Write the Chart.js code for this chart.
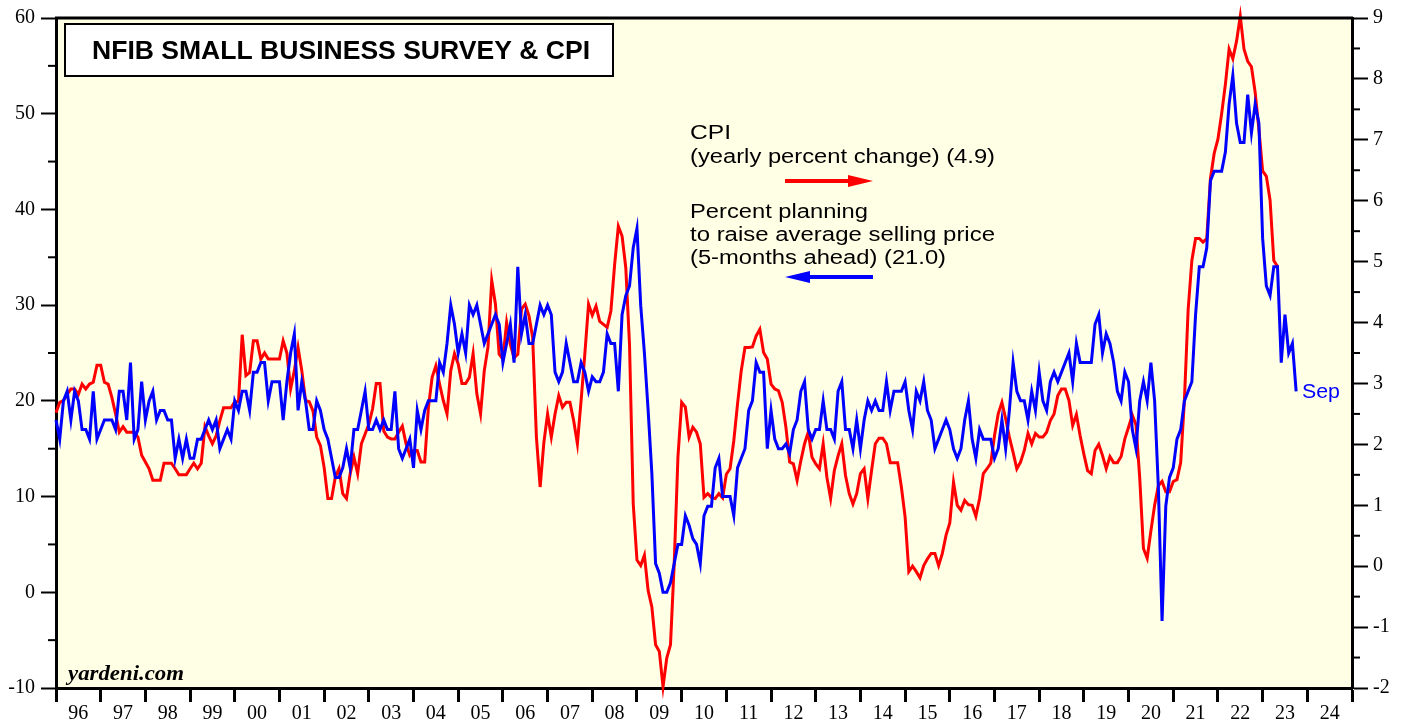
<!DOCTYPE html>
<html lang="en">

<head>
    <meta charset="UTF-8">
    <title>NFIB Small Business Survey & CPI</title>
    <script src="https://cdn.jsdelivr.net/npm/chart.js"></script>
    <style>
        body {
            margin: 0;
            background: #fff;
        }

        #wrap {
            width: 1406px;
            height: 719px;
        }
    </style>
</head>

<body>
    <div id="wrap">
        <canvas id="nfibChart" width="1406" height="719"></canvas>
    </div>

    <script>
        // Year labels for the time axis (x values are months counted from Jan 1996)
        var yearLabels = ['96', '97', '98', '99', '00', '01', '02', '03', '04', '05', '06', '07', '08', '09',
            '10', '11', '12', '13', '14', '15', '16', '17', '18', '19', '20', '21', '22', '23', '24'];

        // Percent planning to raise average selling price (5-months ahead), monthly, left axis
        var priceplans = [
            18, 16, 20, 21, 18, 21, 20, 17, 17, 16, 21, 16,
            17, 18, 18, 18, 17, 21, 21, 18, 24, 16, 17, 22,
            18, 20, 21, 18, 19, 19, 18, 18, 14, 16, 14, 16,
            14, 14, 16, 16, 17, 18, 17, 18, 15, 16, 17, 16,
            20, 19, 21, 21, 19, 23, 23, 24, 24, 20, 22, 22,
            22, 18, 22, 25, 27, 19, 22, 20, 17, 17, 20, 19,
            17, 16, 14, 12, 12, 13, 15, 13, 17, 17, 19, 21,
            17, 17, 18, 17, 18, 17, 17, 21, 15, 14, 15, 16,
            13, 19, 17, 19, 20, 20, 20, 24, 23, 26, 30, 28,
            25, 27, 25, 30, 29, 30, 28, 26, 27, 28, 29, 28,
            24, 26, 28, 24, 34, 27, 29, 26, 26, 28, 30, 29,
            30, 29, 23, 22, 23, 26, 24, 22, 22, 24, 23, 21,
            22.5, 22, 22, 23, 27, 26, 26, 21, 29, 31, 32, 36,
            38, 30, 25, 19, 12.4, 3, 2, 0, 0, 1, 3, 5,
            5, 8, 7, 5.6, 5, 3, 8, 9, 9, 13, 14, 10,
            10, 10, 8, 13, 14, 15, 19, 20, 24, 23, 23, 15,
            19, 16, 15, 15, 15.5, 14.5, 17, 18, 21, 22, 17, 16,
            17, 17, 20, 17, 17, 16, 21, 22, 17, 17, 15, 18,
            15, 18, 20, 19, 20, 19, 19, 22, 19, 21, 21, 21,
            22, 19, 17, 21, 20, 22, 19, 18, 15, 16, 17, 18,
            17, 15, 14, 15, 18, 20, 16, 14, 17, 16, 16, 16,
            14, 15, 18, 15, 19, 24, 21, 20, 20, 18, 21, 19,
            23, 20, 19, 22, 23, 22, 23, 24, 25, 22, 26, 24,
            24, 24, 24, 28, 29, 25, 27, 26, 24, 21, 20, 23,
            22, 17, 15, 20, 22, 20, 24, 20, 11, -3, 9, 12,
            13, 16, 17, 20, 21, 22, 29, 34, 34, 36, 43, 44,
            44, 44, 46, 51, 54, 49, 47, 47, 52, 48, 51, 49,
            37, 32, 31, 34, 34, 24, 29, 25, 26, 21
        ];

        // CPI, yearly percent change, monthly, right axis
        var cpiYoy = [
            2.52, 2.69, 2.72, 2.82, 2.91, 2.91, 2.82, 2.99, 2.91, 2.99, 3.02, 3.30,
            3.30, 3.02, 2.99, 2.77, 2.50, 2.20, 2.29, 2.20, 2.20, 2.20, 2.12, 1.82,
            1.71, 1.60, 1.41, 1.41, 1.41, 1.69, 1.69, 1.69, 1.60, 1.50, 1.50, 1.50,
            1.60, 1.69, 1.60, 1.69, 2.29, 2.14, 2.01, 2.14, 2.39, 2.60, 2.60, 2.60,
            2.70, 2.70, 3.80, 3.13, 3.18, 3.70, 3.70, 3.40, 3.50, 3.40, 3.40, 3.40,
            3.40, 3.70, 3.50, 2.91, 3.21, 3.59, 3.21, 2.72, 2.70, 2.55, 2.12, 1.98,
            1.62, 1.11, 1.11, 1.46, 1.60, 1.19, 1.11, 1.52, 1.79, 1.52, 2.01, 2.17,
            2.33, 2.58, 3.00, 3.00, 2.22, 2.12, 2.09, 2.09, 2.20, 2.30, 2.01, 1.82,
            1.90, 1.90, 1.71, 1.71, 2.61, 3.10, 3.29, 2.99, 2.72, 2.50, 3.21, 3.49,
            3.32, 3.00, 3.00, 3.10, 3.49, 2.83, 2.50, 3.21, 3.60, 4.69, 4.30, 3.48,
            3.40, 4.00, 3.64, 3.42, 3.48, 4.22, 4.30, 4.11, 3.75, 2.12, 1.30, 2.03,
            2.50, 2.12, 2.50, 2.80, 2.61, 2.69, 2.69, 2.39, 2.01, 2.72, 3.48, 4.30,
            4.12, 4.27, 4.02, 3.97, 3.92, 4.19, 4.95, 5.58, 5.42, 4.90, 3.64, 1.02,
            0.10, 0.01, 0.18, -0.40, -0.67, -1.29, -1.40, -1.98, -1.51, -1.29, 0.04, 1.79,
            2.69, 2.61, 2.12, 2.28, 2.20, 2.01, 1.13, 1.19, 1.13, 1.11, 1.19, 1.12,
            1.51, 1.60, 2.06, 2.66, 3.21, 3.59, 3.59, 3.60, 3.78, 3.89, 3.51, 3.40,
            2.99, 2.91, 2.88, 2.69, 2.28, 1.71, 1.68, 1.41, 1.73, 2.01, 2.20, 1.79,
            1.68, 1.60, 2.01, 1.46, 1.11, 1.57, 1.81, 2.01, 1.49, 1.19, 1.02, 1.19,
            1.52, 1.60, 1.11, 1.57, 2.01, 2.10, 2.10, 2.01, 1.70, 1.70, 1.70, 1.30,
            0.81, -0.09, 0.00, -0.09, -0.19, 0.01, 0.12, 0.21, 0.21, 0.01, 0.21, 0.51,
            0.71, 1.38, 1.00, 0.92, 1.08, 1.01, 1.00, 0.82, 1.11, 1.52, 1.60, 1.69,
            2.14, 2.50, 2.69, 2.42, 2.12, 1.87, 1.60, 1.71, 1.90, 2.18, 2.01, 2.18,
            2.12, 2.12, 2.20, 2.39, 2.50, 2.80, 2.91, 2.91, 2.72, 2.31, 2.49, 2.14,
            1.84, 1.57, 1.52, 1.90, 2.00, 1.82, 1.60, 1.80, 1.70, 1.70, 1.80, 2.09,
            2.28, 2.48, 2.32, 1.45, 0.29, 0.13, 0.58, 1.00, 1.32, 1.39, 1.22, 1.22,
            1.39, 1.42, 1.70, 2.73, 4.21, 5.02, 5.38, 5.38, 5.32, 5.38, 6.37, 6.78,
            7.01, 7.43, 7.91, 8.49, 8.33, 8.62, 9.03, 8.49, 8.29, 8.20, 7.78, 7.17,
            6.49, 6.40, 6.01, 5.02, 4.92
        ];

        var serifFont = '"Liberation Serif", "Times New Roman", serif';
        var sansFont = '"Liberation Sans", Arial, sans-serif';

        function toPoints(values) {
            return values.map(function (v, i) { return { x: i, y: v }; });
        }

        // draw text stretched to a given width (the original uses wide letter spacing)
        function fitText(c, text, x, y, width) {
            var w = c.measureText(text).width;
            c.save();
            c.translate(x, y);
            c.scale(width / w, 1);
            c.fillText(text, 0, 0);
            c.restore();
        }

        // background, frame, minor ticks, title box and notes
        var decorations = {
            id: 'decorations',
            beforeDraw: function (chart) {
                var a = chart.chartArea, c = chart.ctx;
                c.save();
                c.fillStyle = '#fff';
                c.fillRect(0, 0, chart.width, chart.height);
                c.fillStyle = '#FFFFE6';
                c.fillRect(a.left, a.top, a.right - a.left, a.bottom - a.top);
                c.restore();
            },
            afterDraw: function (chart) {
                var a = chart.chartArea, c = chart.ctx;
                var yl = chart.scales.y, yr = chart.scales.y2;
                c.save();
                c.strokeStyle = '#000';
                c.lineWidth = 3;
                c.beginPath();
                c.moveTo(a.left - 1, a.top);
                c.lineTo(a.right + 1, a.top);
                c.stroke();

                // minor ticks
                c.lineWidth = 2;
                var v, p;
                for (v = -5; v < 60; v += 10) {
                    p = yl.getPixelForValue(v);
                    c.beginPath(); c.moveTo(a.left - 8, p); c.lineTo(a.left, p); c.stroke();
                }
                for (v = -1.5; v < 9; v += 1) {
                    p = yr.getPixelForValue(v);
                    c.beginPath(); c.moveTo(a.right, p); c.lineTo(a.right + 8, p); c.stroke();
                }

                // title box
                c.fillStyle = '#fff';
                c.fillRect(65, 24, 548, 52);
                c.lineWidth = 2;
                c.strokeRect(65, 24, 548, 52);
                c.fillStyle = '#000';
                c.font = 'bold 25px ' + sansFont;
                c.textBaseline = 'alphabetic';
                fitText(c, 'NFIB SMALL BUSINESS SURVEY & CPI', 92, 59, 498);

                // series notes
                c.font = '20px ' + sansFont;
                fitText(c, 'CPI', 690, 139, 41);
                fitText(c, '(yearly percent change) (4.9)', 690, 163, 305);
                fitText(c, 'Percent planning', 690, 218, 178);
                fitText(c, 'to raise average selling price', 690, 241, 305);
                fitText(c, '(5-months ahead) (21.0)', 690, 264, 256);

                // arrows
                c.lineWidth = 4;
                c.strokeStyle = '#FF0000';
                c.fillStyle = '#FF0000';
                c.beginPath(); c.moveTo(785, 181); c.lineTo(852, 181); c.stroke();
                c.beginPath(); c.moveTo(873, 181); c.lineTo(848, 175); c.lineTo(848, 187); c.closePath(); c.fill();
                c.strokeStyle = '#0000FF';
                c.fillStyle = '#0000FF';
                c.beginPath(); c.moveTo(806, 277); c.lineTo(873, 277); c.stroke();
                c.beginPath(); c.moveTo(785, 277); c.lineTo(810, 271); c.lineTo(810, 283); c.closePath(); c.fill();

                // end label
                c.font = '20px ' + sansFont;
                fitText(c, 'Sep', 1302, 398, 38);

                // source
                c.fillStyle = '#000';
                c.font = 'italic bold 21px ' + serifFont;
                fitText(c, 'yardeni.com', 68, 680, 116);
                c.restore();
            }
        };

        var ctx = document.getElementById('nfibChart').getContext('2d');
        var nfibChart = new Chart(ctx, {
            type: 'line',
            data: {
                datasets: [{
                    label: 'Percent planning to raise average selling price',
                    data: toPoints(priceplans),
                    borderColor: '#0000FF',
                    borderWidth: 3,
                    pointRadius: 0,
                    tension: 0,
                    clip: false,
                    yAxisID: 'y'
                }, {
                    label: 'CPI',
                    data: toPoints(cpiYoy),
                    borderColor: '#FF0000',
                    borderWidth: 3,
                    pointRadius: 0,
                    tension: 0,
                    clip: false,
                    yAxisID: 'y2'
                }]
            },
            options: {
                responsive: false,
                animation: false,
                devicePixelRatio: 1,
                layout: { padding: { top: 16, left: 0, right: 0, bottom: 0 } },
                plugins: {
                    legend: { display: false },
                    tooltip: { enabled: false }
                },
                scales: {
                    x: {
                        type: 'linear',
                        min: 0,
                        max: 348,
                        afterBuildTicks: function (s) {
                            var t = [];
                            for (var m = 0; m <= 348; m += 6) t.push({ value: m });
                            s.ticks = t;
                        },
                        afterFit: function (s) { s.height = 31; },
                        border: { display: true, color: '#000', width: 3 },
                        grid: {
                            drawOnChartArea: false,
                            drawTicks: true,
                            tickLength: 14,
                            tickWidth: 3,
                            tickColor: function (c) {
                                return c.tick && c.tick.value % 12 === 0 ? '#000' : 'rgba(0,0,0,0)';
                            }
                        },
                        ticks: {
                            autoSkip: false,
                            maxRotation: 0,
                            padding: 0,
                            color: '#000',
                            font: { family: serifFont, size: 20 },
                            callback: function (value) {
                                return value % 12 === 6 ? yearLabels[(value - 6) / 12] : '';
                            }
                        }
                    },
                    y: {
                        position: 'left',
                        min: -10,
                        max: 60,
                        afterBuildTicks: function (s) {
                            var t = [];
                            for (var v = -10; v <= 60; v += 10) t.push({ value: v });
                            s.ticks = t;
                        },
                        afterFit: function (s) { s.width = 56; },
                        border: { display: true, color: '#000', width: 3 },
                        grid: { drawOnChartArea: false, tickLength: 15, tickWidth: 2, tickColor: '#000' },
                        ticks: {
                            padding: 6,
                            color: '#000',
                            font: { family: serifFont, size: 20 }
                        }
                    },
                    y2: {
                        position: 'right',
                        min: -2,
                        max: 9,
                        afterBuildTicks: function (s) {
                            var t = [];
                            for (var v = -2; v <= 9; v += 1) t.push({ value: v });
                            s.ticks = t;
                        },
                        afterFit: function (s) { s.width = 54; },
                        border: { display: true, color: '#000', width: 3 },
                        grid: { drawOnChartArea: false, tickLength: 16, tickWidth: 2, tickColor: '#000' },
                        ticks: {
                            padding: 5,
                            color: '#000',
                            font: { family: serifFont, size: 20 }
                        }
                    }
                }
            },
            plugins: [decorations]
        });
    </script>
</body>

</html>
